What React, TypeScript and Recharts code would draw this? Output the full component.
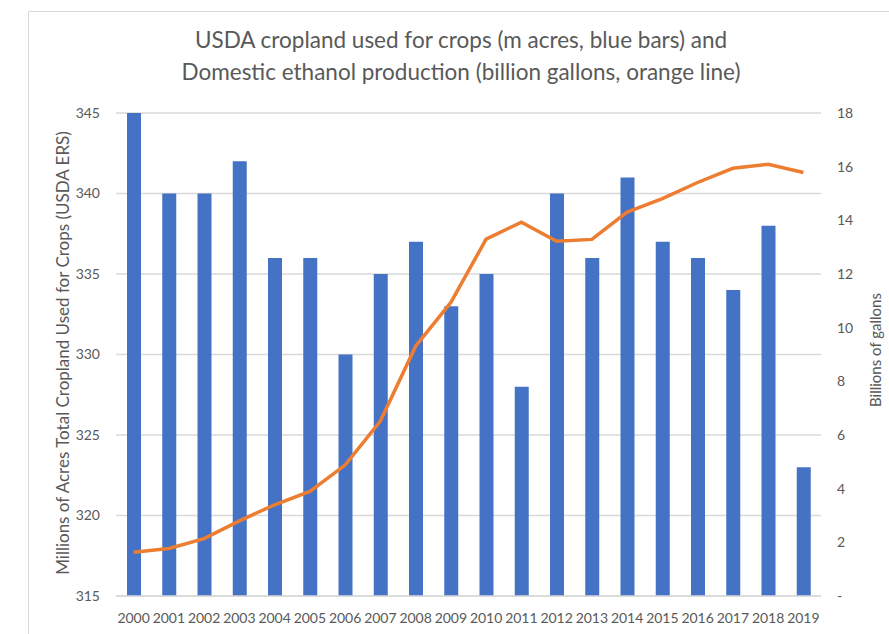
import { Bar, CartesianGrid, ComposedChart, Line, XAxis, YAxis } from "recharts";

const YEARS = [
  "2000", "2001", "2002", "2003", "2004", "2005", "2006", "2007", "2008", "2009",
  "2010", "2011", "2012", "2013", "2014", "2015", "2016", "2017", "2018", "2019",
];
const CROPLAND = [345, 340, 340, 342, 336, 336, 330, 335, 337, 333, 335, 328, 340, 336, 341, 337, 336, 334, 338, 323];
const ETHANOL = [
  1.63, 1.77, 2.14, 2.8, 3.4, 3.9, 4.88, 6.52, 9.31, 10.94,
  13.3, 13.93, 13.22, 13.29, 14.31, 14.81, 15.41, 15.94, 16.09, 15.78,
];
const LEFT_TICKS = [315, 320, 325, 330, 335, 340, 345];
const RIGHT_TICKS = [0, 2, 4, 6, 8, 10, 12, 14, 16, 18];

const TITLE = [
  "USDA cropland used for crops (m acres, blue bars) and",
  "Domestic ethanol production (billion gallons, orange line)",
];
const LEFT_TITLE = "Millions of Acres Total Cropland Used for Crops (USDA ERS)";
const RIGHT_TITLE = "Billions of gallons";

const data = YEARS.map((year, i) => ({ year, cropland: CROPLAND[i], ethanol: ETHANOL[i] }));

const FONT = "Lato, 'Open Sans', sans-serif";
const TEXT = "#595959";
const GRID = "#d9d9d9";

export default function App() {
  const tick = { fill: TEXT, fontSize: 14, fontFamily: FONT };
  return (
    <div style={{ position: "absolute", left: 0, top: 0, width: 889, height: 634, background: "#fff", overflow: "hidden" }}>
      <ComposedChart width={889} height={634} data={data} margin={{ top: 113, right: 0, bottom: 0, left: 0 }}>
        <CartesianGrid yAxisId="left" vertical={false} stroke={GRID} strokeWidth={1.3} />
        <XAxis
          dataKey="year"
          height={38}
          tick={tick}
          tickLine={false}
          tickSize={0}
          tickMargin={17}
          axisLine={{ stroke: GRID, strokeWidth: 1.3 }}
          interval={0}
        />
        <YAxis
          yAxisId="left"
          width={116}
          domain={[315, 345]}
          ticks={LEFT_TICKS}
          tick={tick}
          tickLine={false}
          tickSize={0}
          tickMargin={16}
          axisLine={false}
        />
        <YAxis
          yAxisId="right"
          orientation="right"
          width={68}
          domain={[0, 18]}
          ticks={RIGHT_TICKS}
          tick={{ ...tick, textAnchor: "start" }}
          tickFormatter={(v: number) => (v === 0 ? "-" : String(v))}
          tickLine={false}
          tickSize={0}
          tickMargin={16}
          axisLine={false}
        />
        <Bar yAxisId="left" dataKey="cropland" fill="#4472C4" barSize={14} isAnimationActive={false} />
        <Line
          yAxisId="right"
          dataKey="ethanol"
          type="linear"
          stroke="#ED7D31"
          strokeWidth={3.5}
          dot={false}
          activeDot={false}
          isAnimationActive={false}
        />
      </ComposedChart>
      <svg
        width={889}
        height={634}
        style={{ position: "absolute", left: 0, top: 0, pointerEvents: "none" }}
      >
        <rect x={28.5} y={11.5} width={900} height={700} fill="none" stroke={GRID} strokeWidth={1} />
        {TITLE.map((line, i) => (
          <text key={i} x={461} y={48 + i * 32} textAnchor="middle" fill={TEXT} fontSize={22.5} fontFamily={FONT}>
            {line}
          </text>
        ))}
        <text
          transform="translate(62, 353) rotate(-90)"
          textAnchor="middle"
          dominantBaseline="central"
          fill={TEXT}
          fontSize={17}
          fontFamily={FONT}
        >
          {LEFT_TITLE}
        </text>
        <text
          transform="translate(875, 350) rotate(-90)"
          textAnchor="middle"
          dominantBaseline="central"
          fill={TEXT}
          fontSize={15}
          fontFamily={FONT}
        >
          {RIGHT_TITLE}
        </text>
      </svg>
    </div>
  );
}
